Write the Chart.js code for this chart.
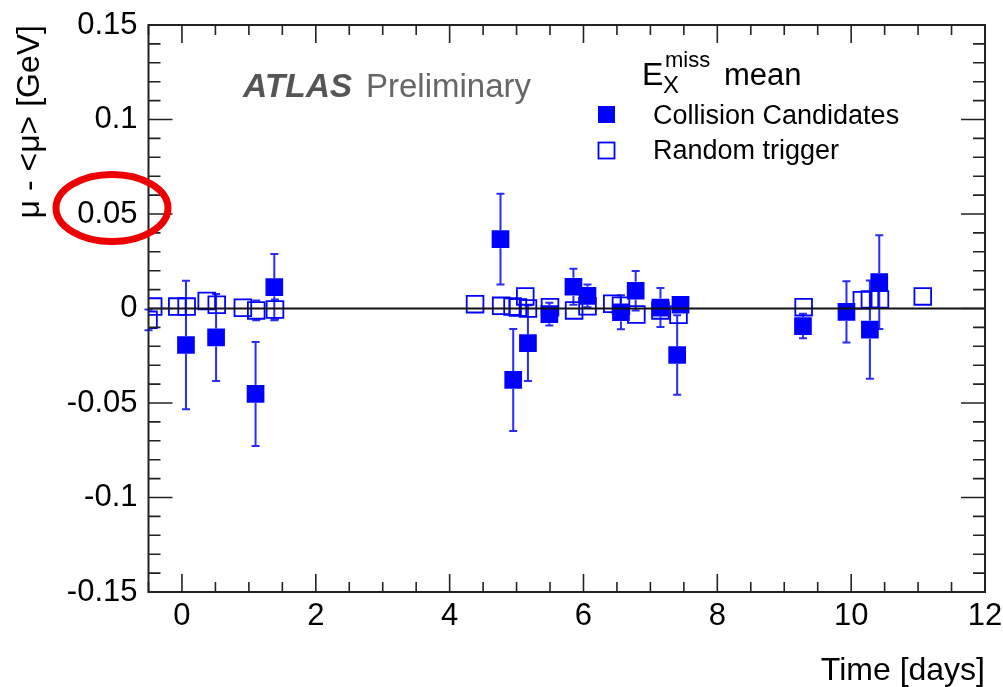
<!DOCTYPE html>
<html><head><meta charset="utf-8">
<script src="https://cdn.jsdelivr.net/npm/chart.js@4.4.1/dist/chart.umd.min.js"></script>
<style>html,body{margin:0;padding:0;background:#fff;}#wrap{width:1003px;height:687px;position:relative;}</style>
</head><body><div id="wrap"><canvas id="c" width="1003" height="687"></canvas></div>
<script>
// ---- data ----
const collisionX   = [0.06, 0.51, 1.10, 1.38, 4.76, 4.95, 5.17, 5.49, 5.85, 6.06, 6.56, 6.78, 7.15, 7.40, 7.45, 9.28, 9.93, 10.28, 10.42];
const collisionY   = [-0.0193, -0.0153, -0.0452, 0.0113, 0.0367, -0.0378, -0.0183, -0.003, 0.0115, 0.0067, -0.002, 0.0094, 0.0005, -0.0246, 0.002, -0.0093, -0.0018, -0.0112, 0.014];
const collisionErr = [0.034, 0.023, 0.0275, 0.0175, 0.024, 0.027, 0.020, 0.006, 0.0095, 0.006, 0.009, 0.0104, 0.0103, 0.021, 0.004, 0.0065, 0.0162, 0.026, 0.0248];
const randomX   = [-0.50, -0.43, -0.07, 0.07, 0.37, 0.52, 0.91, 1.11, 1.39, 4.38, 4.77, 4.94, 5.02, 5.13, 5.17, 5.50, 5.86, 6.06, 6.43, 6.56, 6.79, 7.15, 7.42, 9.29, 10.16, 10.28, 10.43, 11.07];
const randomY   = [-0.006, 0.001, 0.001, 0.001, 0.004, 0.002, 0.0004, -0.001, -0.0005, 0.0023, 0.0014, 0.001, 0.0005, 0.0064, 0.0, 0.0007, -0.001, 0.0012, 0.0025, 0.0015, -0.0032, -0.001, -0.0033, 0.0007, 0.0044, 0.0048, 0.0048, 0.0064];
const randomErr = [0.0055, 0.003, 0.002, 0.002, 0.0045, 0.003, 0.002, 0.0052, 0.0052, 0.002, 0.002, 0.002, 0.002, 0.003, 0.003, 0.0045, 0.002, 0.002, 0.002, 0.002, 0.003, 0.003, 0.003, 0.002, 0.003, 0.003, 0.003, 0.002];
const seriesNames = ['Collision Candidates', 'Random trigger'];
const xTickValues = [0, 2, 4, 6, 8, 10, 12];
const xTickLabels = ['0', '2', '4', '6', '8', '10', '12'];
const yTickValues = [-0.15, -0.1, -0.05, 0, 0.05, 0.1, 0.15];
const yTickLabels = ['-0.15', '-0.1', '-0.05', '0', '0.05', '0.1', '0.15'];
const xTitle = 'Time [days]';
const yTitle = 'μ - <μ> [GeV]';
const xRange = [-0.5, 12];
const yRange = [-0.15, 0.15];

const FONT = "'Liberation Sans', Arial, Helvetica, sans-serif";
const BLUE = '#0000ff';
const HALF_MARKER = 9;

const errorBars = {
  id: 'errorBars',
  beforeDatasetsDraw(chart) {
    const ctx = chart.ctx, xs = chart.scales.x, ys = chart.scales.y;
    const sets = [[collisionX, collisionY, collisionErr], [randomX, randomY, randomErr]];
    ctx.save();
    ctx.strokeStyle = '#2a2aff';
    ctx.lineWidth = 2;
    sets.forEach(([X, Y, E]) => {
      X.forEach((xv, i) => {
        const px = xs.getPixelForValue(xv);
        const py = ys.getPixelForValue(Y[i]);
        const y1 = ys.getPixelForValue(Y[i] + E[i]);
        const y2 = ys.getPixelForValue(Y[i] - E[i]);
        ctx.beginPath();
        if (py - y1 > HALF_MARKER) {
          ctx.moveTo(px, y1); ctx.lineTo(px, py - HALF_MARKER);
          ctx.moveTo(px - 4, y1); ctx.lineTo(px + 4, y1);
        }
        if (y2 - py > HALF_MARKER) {
          ctx.moveTo(px, py + HALF_MARKER); ctx.lineTo(px, y2);
          ctx.moveTo(px - 4, y2); ctx.lineTo(px + 4, y2);
        }
        ctx.stroke();
      });
    });
    ctx.restore();
  },
  afterDatasetsDraw(chart) {
    const ctx = chart.ctx, ys = chart.scales.y, a = chart.chartArea;
    const y0 = ys.getPixelForValue(0);
    ctx.save();
    ctx.strokeStyle = '#111';
    ctx.lineWidth = 2;
    ctx.beginPath(); ctx.moveTo(a.left, y0); ctx.lineTo(a.right, y0); ctx.stroke();
    ctx.restore();
  }
};

const frameAndDecor = {
  id: 'frameAndDecor',
  afterDraw(chart) {
    const ctx = chart.ctx, xs = chart.scales.x, ys = chart.scales.y, a = chart.chartArea;
    ctx.save();
    ctx.strokeStyle = '#222';
    ctx.lineWidth = 2;
    ctx.strokeRect(a.left, a.top, a.right - a.left, a.bottom - a.top);
    ctx.lineWidth = 1.6;
    ctx.beginPath();
    for (let i = -1; i <= 24; i++) {
      const v = i * 0.5;
      const px = xs.getPixelForValue(v);
      const len = (i % 4 === 0) ? 18 : 10;
      ctx.moveTo(px, a.bottom); ctx.lineTo(px, a.bottom - len);
      ctx.moveTo(px, a.top); ctx.lineTo(px, a.top + len);
    }
    for (let i = -15; i <= 15; i++) {
      const v = i * 0.01;
      const py = ys.getPixelForValue(v);
      const len = (i % 5 === 0) ? 24 : 12;
      ctx.moveTo(a.left, py); ctx.lineTo(a.left + len, py);
      ctx.moveTo(a.right, py); ctx.lineTo(a.right - len, py);
    }
    ctx.stroke();

    // ATLAS Preliminary
    ctx.textBaseline = 'alphabetic';
    ctx.textAlign = 'left';
    ctx.fillStyle = '#555';
    ctx.font = 'italic bold 33.5px ' + FONT;
    ctx.fillText('ATLAS', 243, 97);
    ctx.fillStyle = '#666';
    ctx.font = '33px ' + FONT;
    ctx.fillText('Preliminary', 366, 97);

    // Legend header E_X^miss mean
    ctx.fillStyle = '#000';
    ctx.font = '32px ' + FONT;
    ctx.fillText('E', 642, 85);
    ctx.font = '24px ' + FONT;
    ctx.fillText('X', 663, 93);
    ctx.font = '22px ' + FONT;
    ctx.fillText('miss', 665, 67);
    ctx.font = '31px ' + FONT;
    ctx.fillText('mean', 724, 85);

    // Legend entries
    ctx.font = '27px ' + FONT;
    ctx.fillText(seriesNames[0], 653, 124);
    ctx.fillText(seriesNames[1], 653, 159);
    ctx.fillStyle = BLUE;
    ctx.fillRect(598, 106, 17, 17);
    ctx.strokeStyle = BLUE;
    ctx.lineWidth = 1.8;
    ctx.strokeRect(598.5, 142.5, 16, 16);

    // red highlight ellipse around the 0.05 label
    ctx.strokeStyle = '#ee0000';
    ctx.lineWidth = 7;
    ctx.beginPath();
    ctx.ellipse(a.left - 36.5, ys.getPixelForValue(0.05) - 6, 56, 33.5, 0, 0, Math.PI * 2);
    ctx.stroke();
    ctx.restore();
  }
};

const chart = new Chart(document.getElementById('c'), {
  type: 'scatter',
  data: {
    datasets: [
      {
        label: seriesNames[0],
        data: collisionX.map((x, i) => ({ x, y: collisionY[i] })),
        pointStyle: 'rect', pointRadius: 12.5, backgroundColor: BLUE, borderColor: BLUE, borderWidth: 0,
        order: 2, showLine: false
      },
      {
        label: seriesNames[1],
        data: randomX.map((x, i) => ({ x, y: randomY[i] })),
        pointStyle: 'rect', pointRadius: 11.8, backgroundColor: 'rgba(0,0,0,0)', borderColor: BLUE, borderWidth: 1.8,
        order: 1, showLine: false
      }
    ]
  },
  options: {
    responsive: false,
    animation: false,
    events: [],
    layout: { padding: { left: 0, right: 18, top: 25, bottom: 0 } },
    plugins: { legend: { display: false }, tooltip: { enabled: false }, title: { display: false } },
    scales: {
      x: {
        type: 'linear', min: xRange[0], max: xRange[1],
        afterBuildTicks: s => { s.ticks = xTickValues.map(v => ({ value: v })); },
        afterFit: s => { s.height = 95; s.paddingLeft = 0; s.paddingRight = 0; },
        grid: { display: false, drawTicks: false },
        border: { display: false },
        ticks: { autoSkip: false, maxRotation: 0, padding: 6, color: '#000', font: { family: FONT, size: 31 },
                 callback: (v, i) => xTickLabels[i] },
        title: { display: true, text: xTitle, align: 'end', color: '#000', font: { family: FONT, size: 32, lineHeight: 1 }, padding: { top: 0, bottom: 0 } }
      },
      y: {
        type: 'linear', min: yRange[0], max: yRange[1],
        afterBuildTicks: s => { s.ticks = yTickValues.map(v => ({ value: v })); },
        afterFit: s => { s.width = 148.5; s.paddingTop = 0; s.paddingBottom = 0; },
        grid: { display: false, drawTicks: false },
        border: { display: false },
        ticks: { autoSkip: false, padding: 11, color: '#000', font: { family: FONT, size: 31 },
                 callback: (v, i) => yTickLabels[i] },
        title: { display: true, text: yTitle, align: 'end', color: '#000', font: { family: FONT, size: 32, lineHeight: 1 }, padding: { top: 14, bottom: 0 } }
      }
    }
  },
  plugins: [errorBars, frameAndDecor]
});
</script></body></html>
